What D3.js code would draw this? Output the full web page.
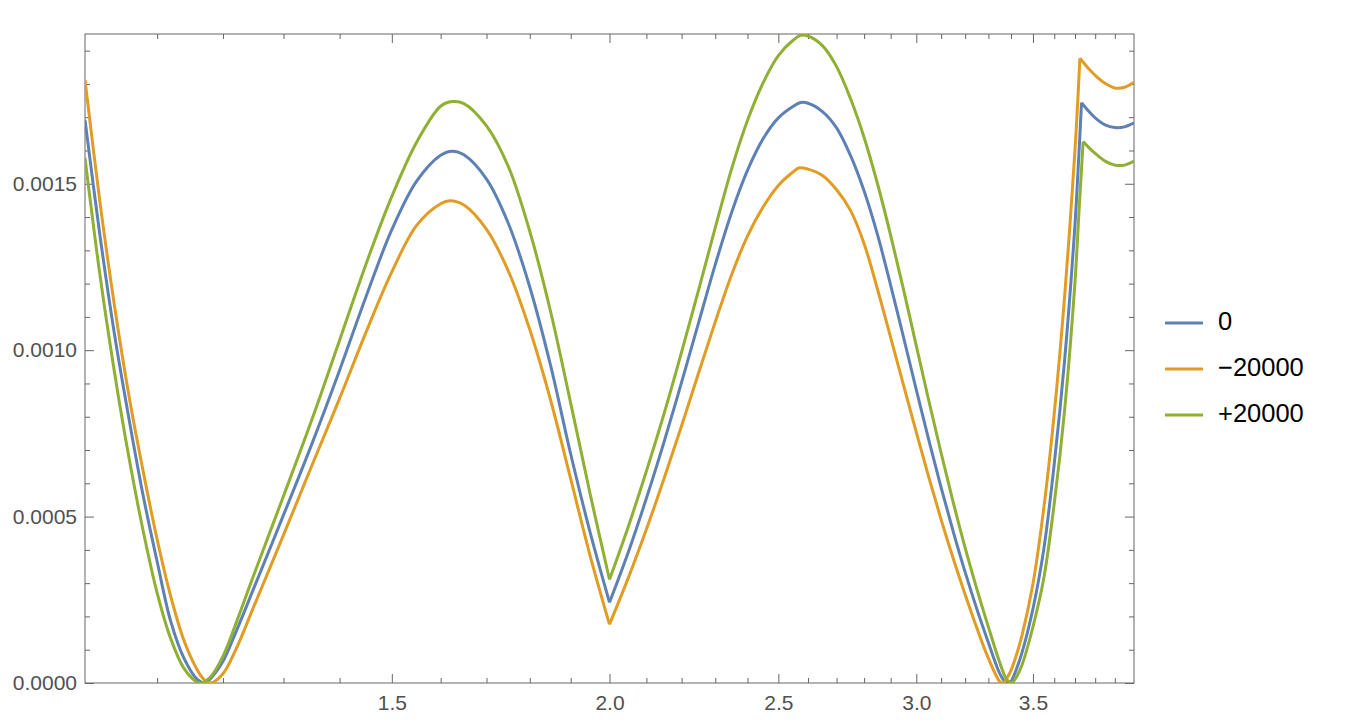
<!DOCTYPE html>
<html>
<head>
<meta charset="utf-8">
<script src="https://cdn.jsdelivr.net/npm/d3@7"></script>
<style>
  body { margin: 0; background: #fff; }
  svg text { font-family: "Liberation Sans", Arial, Helvetica, sans-serif; }
</style>
</head>
<body>
<svg id="chart" width="1356" height="724"></svg>
<script>
// legend labels, one per series
var seriesNames = ["0", "\u221220000", "+20000"];
var seriesColors = ["#5e81b5", "#e19c24", "#8fb032"];

// series "0"
var xZero = [1.00, 1.02, 1.04, 1.06, 1.08, 1.10, 1.12, 1.14, 1.16, 1.172, 1.18, 1.20, 1.22, 1.25, 1.30, 1.35, 1.40, 1.45, 1.50, 1.55, 1.60, 1.625, 1.65, 1.70, 1.75, 1.80, 1.85, 1.90, 1.95, 2.00,
  2.05, 2.10, 2.15, 2.20, 2.25, 2.30, 2.35, 2.40, 2.45, 2.50, 2.55, 2.575, 2.60, 2.65, 2.70, 2.75, 2.80, 2.85, 2.90, 2.95, 3.00, 3.05, 3.10, 3.15, 3.20, 3.25, 3.30, 3.35, 3.37, 3.388,
  3.40, 3.42, 3.45, 3.50, 3.55, 3.60, 3.65, 3.70, 3.715, 3.732, 3.76, 3.80, 3.85, 3.90, 3.95, 4.00];
var yZero = [16.92e-4, 13.44e-4, 10.44e-4, 7.92e-4, 5.62e-4, 3.65e-4, 1.85e-4, 0.73e-4, 0.105e-4, 0, 0.12e-4, 0.65e-4, 1.50e-4, 2.85e-4, 5.05e-4, 7.20e-4, 9.40e-4, 11.62e-4, 13.62e-4, 15.08e-4, 15.86e-4, 15.98e-4, 15.87e-4, 15.14e-4, 13.80e-4, 11.90e-4, 9.55e-4, 6.88e-4, 4.50e-4, 2.42e-4,
  3.92e-4, 5.55e-4, 7.26e-4, 9.04e-4, 10.83e-4, 12.57e-4, 14.13e-4, 15.40e-4, 16.35e-4, 16.98e-4, 17.33e-4, 17.44e-4, 17.42e-4, 17.17e-4, 16.68e-4, 15.85e-4, 14.78e-4, 13.47e-4, 11.95e-4, 10.38e-4, 8.81e-4, 7.30e-4, 5.87e-4, 4.55e-4, 3.33e-4, 2.22e-4, 1.21e-4, 0.28e-4, 0.064e-4, 0,
  0.05e-4, 0.34e-4, 0.92e-4, 2.23e-4, 4.00e-4, 6.59e-4, 9.73e-4, 13.79e-4, 15.41e-4, 17.44e-4, 17.23e-4, 16.98e-4, 16.77e-4, 16.69e-4, 16.71e-4, 16.83e-4];
var cornersZero = [2.0, 3.732];

// series "-20000"
var xMinus = [1.00, 1.02, 1.04, 1.06, 1.08, 1.10, 1.12, 1.14, 1.16, 1.17, 1.18, 1.20, 1.22, 1.25, 1.30, 1.35, 1.40, 1.45, 1.50, 1.55, 1.60, 1.62, 1.65, 1.70, 1.75, 1.80, 1.85, 1.90, 1.95, 2.00,
  2.05, 2.10, 2.15, 2.20, 2.25, 2.30, 2.35, 2.40, 2.45, 2.50, 2.55, 2.57, 2.60, 2.65, 2.70, 2.75, 2.80, 2.85, 2.90, 2.95, 3.00, 3.05, 3.10, 3.15, 3.20, 3.25, 3.30, 3.35, 3.365,
  3.38, 3.40, 3.42, 3.45, 3.50, 3.55, 3.60, 3.65, 3.70, 3.724, 3.76, 3.80, 3.85, 3.90, 3.95, 4.00];
var yMinus = [18.12e-4, 14.44e-4, 11.30e-4, 8.61e-4, 6.35e-4, 4.32e-4, 2.60e-4, 1.26e-4, 0.39e-4, 0.11e-4, 0, 0.28e-4, 0.98e-4, 2.30e-4, 4.45e-4, 6.55e-4, 8.55e-4, 10.55e-4, 12.35e-4, 13.75e-4, 14.40e-4, 14.49e-4, 14.36e-4, 13.63e-4, 12.37e-4, 10.62e-4, 8.51e-4, 6.13e-4, 3.80e-4, 1.76e-4,
  3.15e-4, 4.62e-4, 6.16e-4, 7.73e-4, 9.32e-4, 10.85e-4, 12.26e-4, 13.43e-4, 14.30e-4, 14.95e-4, 15.36e-4, 15.48e-4, 15.44e-4, 15.25e-4, 14.82e-4, 14.20e-4, 13.20e-4, 11.83e-4, 10.38e-4, 8.94e-4, 7.53e-4, 6.18e-4, 4.91e-4, 3.74e-4, 2.66e-4, 1.65e-4, 0.74e-4, 0.043e-4, 0,
  0.13e-4, 0.38e-4, 0.75e-4, 1.44e-4, 2.98e-4, 5.23e-4, 8.11e-4, 11.65e-4, 16.02e-4, 18.77e-4, 18.51e-4, 18.26e-4, 18.02e-4, 17.88e-4, 17.90e-4, 18.05e-4];
var cornersMinus = [2.0, 3.724];

// series "+20000"
var xPlus = [1.00, 1.02, 1.04, 1.06, 1.08, 1.10, 1.12, 1.14, 1.16, 1.164, 1.17, 1.18, 1.20, 1.22, 1.25, 1.30, 1.35, 1.40, 1.45, 1.50, 1.55, 1.60, 1.625, 1.65, 1.70, 1.75, 1.80, 1.85, 1.90, 1.95, 2.00,
  2.05, 2.10, 2.15, 2.20, 2.25, 2.30, 2.35, 2.40, 2.45, 2.50, 2.55, 2.575, 2.60, 2.65, 2.70, 2.75, 2.80, 2.85, 2.90, 2.95, 3.00, 3.05, 3.10, 3.15, 3.20, 3.25, 3.30, 3.35, 3.38, 3.403,
  3.42, 3.45, 3.50, 3.55, 3.60, 3.65, 3.70, 3.72, 3.74, 3.76, 3.80, 3.85, 3.90, 3.95, 4.00];
var yPlus = [15.78e-4, 12.25e-4, 9.30e-4, 6.75e-4, 4.56e-4, 2.71e-4, 1.33e-4, 0.43e-4, 0.02e-4, 0, 0.03e-4, 0.17e-4, 0.80e-4, 1.75e-4, 3.25e-4, 5.62e-4, 7.93e-4, 10.30e-4, 12.60e-4, 14.62e-4, 16.25e-4, 17.33e-4, 17.47e-4, 17.41e-4, 16.74e-4, 15.51e-4, 13.57e-4, 11.17e-4, 8.41e-4, 5.65e-4, 3.11e-4,
  4.69e-4, 6.37e-4, 8.11e-4, 9.95e-4, 11.81e-4, 13.68e-4, 15.44e-4, 16.90e-4, 18.03e-4, 18.85e-4, 19.32e-4, 19.46e-4, 19.44e-4, 19.15e-4, 18.52e-4, 17.56e-4, 16.39e-4, 15.00e-4, 13.45e-4, 11.81e-4, 10.13e-4, 8.48e-4, 6.91e-4, 5.43e-4, 4.06e-4, 2.82e-4, 1.68e-4, 0.61e-4, 0.117e-4, 0,
  0.13e-4, 0.55e-4, 1.69e-4, 3.13e-4, 5.40e-4, 8.23e-4, 12.05e-4, 14.22e-4, 16.27e-4, 16.14e-4, 15.91e-4, 15.68e-4, 15.56e-4, 15.56e-4, 15.68e-4];
var cornersPlus = [2.0, 3.74];

// ticks
var xTicksMajor = [1.5, 2.0, 2.5, 3.0, 3.5];
var xTicksMinor = [1.1, 1.2, 1.3, 1.4, 1.6, 1.7, 1.8, 1.9, 2.1, 2.2, 2.3, 2.4, 2.6, 2.7, 2.8, 2.9, 3.1, 3.2, 3.3, 3.4, 3.6, 3.7, 3.8, 3.9];
var yTicksMajor = [0, 0.0005, 0.0010, 0.0015];
var yTicksMinor = [0.0001, 0.0002, 0.0003, 0.0004, 0.0006, 0.0007, 0.0008, 0.0009, 0.0011, 0.0012, 0.0013, 0.0014, 0.0016, 0.0017, 0.0018, 0.0019];

var series = [
  {name: seriesNames[0], color: seriesColors[0], xs: xZero, ys: yZero, corners: cornersZero},
  {name: seriesNames[1], color: seriesColors[1], xs: xMinus, ys: yMinus, corners: cornersMinus},
  {name: seriesNames[2], color: seriesColors[2], xs: xPlus, ys: yPlus, corners: cornersPlus}
];

// frame of the plot
var margin = {top: 34, right: 222, bottom: 41, left: 85},
    width = 1356 - margin.left - margin.right,
    height = 724 - margin.top - margin.bottom;

var x = d3.scaleLog().domain([1, 4]).range([0, width]);
var y = d3.scaleLinear().domain([0, 0.00195]).range([height, 0]);

var svg = d3.select("#chart");
svg.append("rect").attr("width", 1356).attr("height", 724).attr("fill", "#fff");

var g = svg.append("g")
    .attr("transform", "translate(" + margin.left + "," + margin.top + ")");

g.append("clipPath").attr("id", "plotclip")
  .append("rect").attr("width", width).attr("height", height);

var frameColor = "#666";

function styleAxis(sel) {
  sel.select(".domain").remove();
  sel.selectAll(".tick line").attr("stroke", frameColor);
  sel.selectAll("text").attr("fill", "#505050").style("font-size", "21px");
}

// bottom axis with labels, plus minor ticks
g.append("g").attr("transform", "translate(0," + height + ")")
  .call(d3.axisBottom(x).tickValues(xTicksMajor).tickSizeInner(-9).tickSizeOuter(0).tickPadding(12)
    .tickFormat(d3.format(".1f")))
  .call(styleAxis);
g.append("g").attr("transform", "translate(0," + height + ")")
  .call(d3.axisBottom(x).tickValues(xTicksMinor).tickSizeInner(-5).tickSizeOuter(0).tickFormat(""))
  .call(styleAxis);

// top axis, ticks only
g.append("g")
  .call(d3.axisTop(x).tickValues(xTicksMajor).tickSizeInner(-9).tickSizeOuter(0).tickFormat(""))
  .call(styleAxis);
g.append("g")
  .call(d3.axisTop(x).tickValues(xTicksMinor).tickSizeInner(-5).tickSizeOuter(0).tickFormat(""))
  .call(styleAxis);

// left axis with labels
g.append("g")
  .call(d3.axisLeft(y).tickValues(yTicksMajor).tickSizeInner(-9).tickSizeOuter(0).tickPadding(8)
    .tickFormat(d3.format(".4f")))
  .call(styleAxis);
g.append("g")
  .call(d3.axisLeft(y).tickValues(yTicksMinor).tickSizeInner(-5).tickSizeOuter(0).tickFormat(""))
  .call(styleAxis);

// right axis, ticks only
g.append("g").attr("transform", "translate(" + width + ",0)")
  .call(d3.axisRight(y).tickValues(yTicksMajor).tickSizeInner(-9).tickSizeOuter(0).tickFormat(""))
  .call(styleAxis);
g.append("g").attr("transform", "translate(" + width + ",0)")
  .call(d3.axisRight(y).tickValues(yTicksMinor).tickSizeInner(-5).tickSizeOuter(0).tickFormat(""))
  .call(styleAxis);

g.append("rect")
  .attr("width", width).attr("height", height)
  .attr("fill", "none").attr("stroke", frameColor).attr("stroke-width", 1);

// split each series at its corners so the kinks stay sharp
function segments(s) {
  var pts = s.xs.map(function(d, i) { return [d, s.ys[i]]; });
  var cuts = [s.xs[0]].concat(s.corners).concat([s.xs[s.xs.length - 1]]);
  var out = [];
  for (var i = 0; i < cuts.length - 1; i++) {
    out.push(pts.filter(function(p) { return p[0] >= cuts[i] && p[0] <= cuts[i + 1]; }));
  }
  return out;
}

var line = d3.line()
    .x(function(d) { return x(d[0]); })
    .y(function(d) { return y(d[1]); })
    .curve(d3.curveCatmullRom.alpha(0.5));

var plot = g.append("g").attr("clip-path", "url(#plotclip)");

series.forEach(function(s) {
  plot.selectAll(null)
      .data(segments(s))
    .enter().append("path")
      .attr("d", line)
      .attr("fill", "none")
      .attr("stroke", s.color)
      .attr("stroke-width", 3)
      .attr("stroke-linejoin", "miter")
      .attr("stroke-linecap", "butt");
});

// legend
var legend = svg.append("g").attr("transform", "translate(1165,323)");
var item = legend.selectAll(".item")
    .data(series)
  .enter().append("g")
    .attr("class", "item")
    .attr("transform", function(d, i) { return "translate(0," + (i * 46) + ")"; });
item.append("line")
    .attr("x1", 0).attr("x2", 38)
    .attr("stroke", function(d) { return d.color; })
    .attr("stroke-width", 3);
item.append("text")
    .attr("x", 53).attr("y", 7)
    .style("font-size", "25.5px")
    .attr("fill", "#000")
    .text(function(d) { return d.name; });
</script>
</body>
</html>
